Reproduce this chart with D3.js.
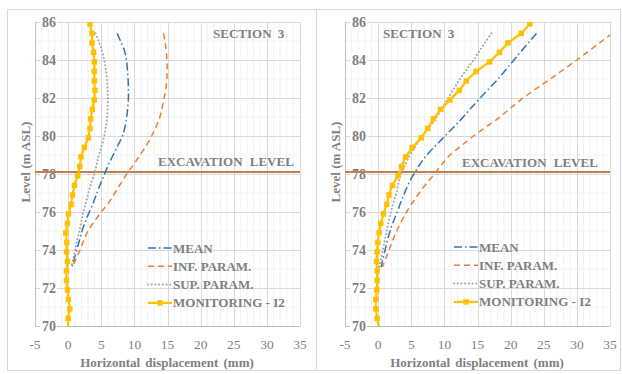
<!DOCTYPE html>
<html><head><meta charset="utf-8">
<script src="https://cdn.jsdelivr.net/npm/d3@7"></script>
<style>body{margin:0;background:#fff}svg{display:block}text{font-family:"Liberation Serif","Times New Roman",serif;}</style>
</head><body><svg id="c" width="622" height="374"></svg>
<script>
const xTicks = [-5,0,5,10,15,20,25,30,35];
const yTicks = [70,72,74,76,78,80,82,84,86];
const seriesNames = ["MEAN","INF. PARAM.","SUP. PARAM.","MONITORING - I2"];
const excavationLevel = 78.1;

const levelsMon = [85.9,85.4,84.9,84.4,83.9,83.4,82.9,82.4,81.9,81.4,80.9,80.4,79.9,79.4,78.9,78.4,77.9,77.4,76.9,76.4,75.9,75.4,74.9,74.4,73.9,73.4,72.9,72.4,71.9,71.4,70.9,70.4,69.9];
const levelsModel = [85.4,85,84.5,84,83.5,83,82.5,82,81.5,81,80.5,80,79.5,79,78.5,78,77.5,77,76.5,76,75.5,75,74.5,74,73.5,73.1];

// Left panel
const monLeft  = [3.3,3.6,3.6,3.85,3.95,3.95,3.95,4.05,3.95,3.65,3.4,3.3,3.05,2.45,1.95,1.75,1.45,0.95,0.65,0.45,0.05,-0.1,-0.35,-0.2,-0.25,-0.1,-0.25,-0.25,-0.1,0.05,0.25,0.0,0.0];
const meanLeft = [7.4,7.9,8.5,8.8,8.95,9.05,9.1,9.1,9.0,8.85,8.6,8.2,7.5,6.8,6.1,5.5,4.9,4.35,3.8,3.2,2.6,2.1,1.7,1.3,0.9,0.55];
const infLeft  = [14.4,14.6,14.8,14.9,14.95,14.9,14.75,14.5,14.2,13.85,13.3,12.6,11.8,10.85,9.9,8.85,7.95,7.05,6.15,5.0,3.95,3.0,2.35,1.8,1.15,0.65];
const supLeft  = [4.15,4.6,5.1,5.45,5.7,5.85,5.95,6.0,5.95,5.9,5.7,5.45,5.1,4.65,4.3,3.95,3.45,3.05,2.7,2.3,2.0,1.7,1.35,1.05,0.75,0.45];

// Right panel
const monRight  = [22.9,21.6,19.6,18.3,16.8,14.8,13.3,12.25,10.85,9.45,8.35,7.5,6.5,5.15,4.15,3.55,3.0,2.15,1.65,1.3,0.8,0.4,0.15,-0.05,-0.15,-0.25,-0.15,-0.15,-0.2,-0.35,-0.35,-0.15,0.15];
const meanRight = [23.9,22.9,21.7,20.5,19.3,18.1,16.75,15.4,14.1,12.85,11.5,10.1,8.7,7.35,6.3,5.4,4.6,4.0,3.4,2.9,2.3,1.8,1.4,1.05,0.7,0.45];
const infRight  = [35.3,33.8,31.9,30.0,28.0,26.0,23.9,21.9,20.1,18.4,16.4,14.4,12.6,10.85,9.6,8.5,7.3,6.2,5.2,4.3,3.5,2.8,2.2,1.65,1.1,0.65];
const supRight  = [17.1,16.3,15.35,14.4,13.35,12.35,11.45,10.6,9.7,8.85,7.8,6.7,5.7,4.8,4.1,3.45,3.05,2.75,2.3,1.95,1.6,1.3,1.0,0.7,0.4,0.15];

const svg = d3.select("#c");
const gray = "#7f7f7f";
const styles = [
  {color:"#2e75b6", dash:"8,3,1.5,3", width:1.5, cap:"butt"},
  {color:"#ed7d31", dash:"6,4", width:1.5, cap:"butt"},
  {color:"#a5a5a5", dash:"0.1,3.6", width:2, cap:"round"},
  {color:"#ffc000", dash:null, width:2.25, cap:"butt"}
];

// panel borders
svg.append("rect").attr("x",7.5).attr("y",9.5).attr("width",309).attr("height",361).attr("fill","none").attr("stroke","#d9d9d9");
svg.append("rect").attr("x",316.5).attr("y",9.5).attr("width",304).attr("height",361).attr("fill","none").attr("stroke","#d9d9d9");

function panel(id, x0, mean, inf, sup, mon, opt){
  const W = 265, top = 22, bot = 326;
  const x = d3.scaleLinear().domain([-5,35]).range([x0, x0+W]);
  const y = d3.scaleLinear().domain([70,86]).range([bot, top]);
  const g = svg.append("g");
  // minor grid
  d3.range(-5,35.01,1).forEach(v=>{ if(v%5!==0) g.append("line").attr("x1",x(v)).attr("x2",x(v)).attr("y1",top).attr("y2",bot).attr("stroke","#f2f2f2"); });
  d3.range(70,86.01,1).forEach(v=>{ if(v%2!==0) g.append("line").attr("y1",y(v)).attr("y2",y(v)).attr("x1",x0).attr("x2",x0+W).attr("stroke","#f2f2f2"); });
  // major grid
  xTicks.forEach(v=>g.append("line").attr("x1",Math.round(x(v))+0.5).attr("x2",Math.round(x(v))+0.5).attr("y1",top).attr("y2",bot).attr("stroke","#d9d9d9"));
  yTicks.forEach(v=>g.append("line").attr("y1",Math.round(y(v))+0.5).attr("y2",Math.round(y(v))+0.5).attr("x1",x0).attr("x2",x0+W).attr("stroke","#d9d9d9"));
  // axis lines
  g.append("line").attr("x1",x0+0.5).attr("x2",x0+0.5).attr("y1",top).attr("y2",bot).attr("stroke","#bfbfbf");
  g.append("line").attr("x1",x0).attr("x2",x0+W).attr("y1",bot+0.5).attr("y2",bot+0.5).attr("stroke","#bfbfbf");

  // y tick labels with white background (over plot)
  yTicks.forEach(v=>{
    g.append("rect").attr("x",x0+5).attr("y",y(v)-7).attr("width",17).attr("height",14).attr("fill","#fff");
    g.append("text").attr("x",x0+21).attr("y",y(v)+4.5).attr("text-anchor","end")
      .attr("font-size",14).attr("font-weight","bold").attr("fill",gray).text(v);
  });
  xTicks.forEach(v=>{
    g.append("text").attr("x",x(v)).attr("y",349).attr("text-anchor","middle")
      .attr("font-size",13.5).attr("fill",gray).text(v);
  });
  g.append("text").attr("transform",`translate(${x0-5},162) rotate(-90)`).attr("text-anchor","middle")
    .attr("font-size",13).attr("font-weight","bold").attr("fill",gray).text("Level (m ASL)");
  g.append("text").attr("x",x0+132).attr("y",367).attr("text-anchor","middle")
    .attr("font-size",13).attr("font-weight","bold").attr("fill",gray).attr("word-spacing","2px").text("Horizontal displacement (mm)");

  // clip
  svg.append("clipPath").attr("id","clip"+id).append("rect").attr("x",x0).attr("y",top).attr("width",W).attr("height",bot-top);
  const pg = g.append("g").attr("clip-path",`url(#clip${id})`);

  // excavation level
  pg.append("line").attr("x1",x0).attr("x2",x0+W).attr("y1",y(excavationLevel)).attr("y2",y(excavationLevel))
    .attr("stroke","#c0804a").attr("stroke-width",2);

  const modelLine = d3.line().x(d=>x(d[0])).y(d=>y(d[1])).curve(d3.curveCatmullRom);
  [mean, inf, sup].forEach((s,i)=>{
    const data = s.map((v,k)=>[v, levelsModel[k]]);
    pg.append("path").attr("d",modelLine(data)).attr("fill","none")
      .attr("stroke",styles[i].color).attr("stroke-width",styles[i].width).attr("stroke-dasharray",styles[i].dash)
      .attr("stroke-linecap", styles[i].cap);
  });
  const monData = mon.map((v,k)=>[v, levelsMon[k]]);
  const monLine = d3.line().x(d=>x(d[0])).y(d=>y(d[1]));
  pg.append("path").attr("d",monLine(monData)).attr("fill","none").attr("stroke",styles[3].color).attr("stroke-width",styles[3].width);
  pg.selectAll(null).data(monData.filter(d=>d[1]>=70)).enter().append("rect")
    .attr("x",d=>x(d[0])-2.75).attr("y",d=>y(d[1])-2.75).attr("width",5.5).attr("height",5.5).attr("fill",styles[3].color);

  // texts
  g.append("text").attr("x",opt.secX).attr("y",38).attr("font-size",13).attr("font-weight","bold").attr("fill",gray)
    .attr("word-spacing","3px").text("SECTION 3");
  g.append("text").attr("x",opt.excX).attr("y",opt.excY).attr("font-size",13).attr("font-weight","bold").attr("fill",gray)
    .attr("word-spacing","4px").text("EXCAVATION LEVEL");

  // legend
  seriesNames.forEach((name,i)=>{
    const ly = opt.legY + i*18.3;
    g.append("line").attr("x1",opt.legX).attr("x2",opt.legX+24).attr("y1",ly).attr("y2",ly)
      .attr("stroke",styles[i].color).attr("stroke-width",styles[i].width).attr("stroke-dasharray",styles[i].dash)
      .attr("stroke-linecap", styles[i].cap);
    if(i===3) g.append("rect").attr("x",opt.legX+12-2.75).attr("y",ly-2.75).attr("width",5.5).attr("height",5.5).attr("fill",styles[3].color);
    g.append("text").attr("x",opt.legX+25).attr("y",ly+4.5).attr("font-size",13).attr("font-weight","bold").attr("fill",gray).text(name);
  });
}

panel("L", 35, meanLeft, infLeft, supLeft, monLeft, {secX:213, excX:158, excY:165.5, legX:148, legY:248});
panel("R", 345, meanRight, infRight, supRight, monRight, {secX:383, excX:462, excY:167, legX:454, legY:247});
</script></body></html>
